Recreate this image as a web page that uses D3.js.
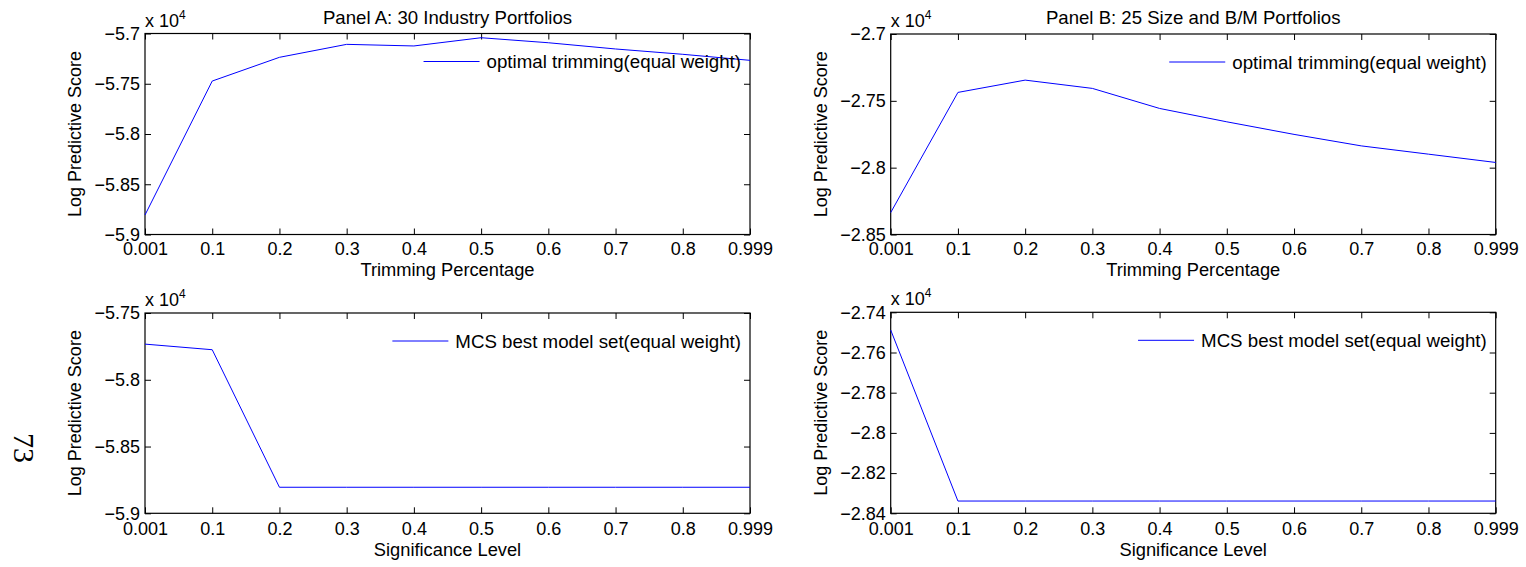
<!DOCTYPE html>
<html>
<head>
<meta charset="utf-8">
<script src="https://cdn.jsdelivr.net/npm/d3@7"></script>
<style>
  body { margin: 0; background: #fff; }
  text { font-family: "Liberation Sans", Arial, sans-serif; }
</style>
</head>
<body>
<script>
var width = 1526;
var height = 567;

// x categories (same for all four panels)
var xLabels = ["0.001", "0.1", "0.2", "0.3", "0.4", "0.5", "0.6", "0.7", "0.8", "0.999"];

// values in units of 10^4
var trimA = [-5.8806, -5.7473, -5.7237, -5.7108, -5.7124, -5.7042, -5.7092, -5.7154, -5.7207, -5.7267];
var trimB = [-2.8336, -2.7437, -2.7345, -2.7407, -2.7557, -2.7657, -2.7751, -2.7837, -2.7899, -2.7961];
var mcsA = [-5.7733, -5.7775, -5.8805, -5.8805, -5.8805, -5.8805, -5.8805, -5.8805, -5.8805, -5.8805];
var mcsB = [-2.7488, -2.8339, -2.8339, -2.8339, -2.8339, -2.8339, -2.8339, -2.8339, -2.8339, -2.8339];

// y ticks per panel
var yTicksA = [-5.9, -5.85, -5.8, -5.75, -5.7];
var yTicksB = [-2.85, -2.8, -2.75, -2.7];
var yTicksC = [-5.9, -5.85, -5.8, -5.75];
var yTicksD = [-2.84, -2.82, -2.8, -2.78, -2.76, -2.74];

var svg = d3.select("body")
            .append("svg")
            .attr("width", width)
            .attr("height", height);

var fmt = function (d) { return String(d).replace("-", "\u2212"); };

function drawPanel(p) {
    var w = p.right - p.left,
        h = p.bottom - p.top;

    var x = d3.scalePoint().domain(xLabels).range([0, w]),
        y = d3.scaleLinear().domain([p.yTicks[0], p.yTicks[p.yTicks.length - 1]]).range([h, 0]);

    var g = svg.append("g")
               .attr("transform", "translate(" + p.left + "," + p.top + ")");

    // bottom axis with labels, ticks pointing in
    g.append("g")
     .attr("transform", "translate(0," + h + ")")
     .call(d3.axisBottom(x).tickSize(-6).tickPadding(p.tickPad));
    g.append("g").call(d3.axisTop(x).tickSize(-6).tickFormat(""));

    g.append("g")
     .call(d3.axisLeft(y).tickValues(p.yTicks).tickSize(-6).tickPadding(5).tickFormat(fmt));
    g.append("g")
     .attr("transform", "translate(" + w + ",0)")
     .call(d3.axisRight(y).tickValues(p.yTicks).tickSize(-6).tickFormat(""));

    g.selectAll(".domain").remove();
    g.selectAll(".tick line").attr("stroke", "#000").attr("stroke-width", 1);
    g.selectAll(".tick text")
     .attr("font-family", "Liberation Sans, Arial, sans-serif")
     .attr("font-size", 18)
     .attr("fill", "#000");

    // box
    g.append("rect")
     .attr("width", w)
     .attr("height", h)
     .attr("fill", "none")
     .attr("stroke", "#000")
     .attr("stroke-width", 1.2);

    // data line
    var line = d3.line()
                 .x(function (d, i) { return x(xLabels[i]); })
                 .y(function (d) { return y(d); });
    g.append("path")
     .datum(p.values)
     .attr("d", line)
     .attr("fill", "none")
     .attr("stroke", "#0000ff")
     .attr("stroke-width", 1);

    // legend (no box)
    var legText = g.append("text")
                   .attr("x", w - 9)
                   .attr("y", 28)
                   .attr("dy", "0.35em")
                   .attr("text-anchor", "end")
                   .attr("font-size", 18.7)
                   .text(p.legend);
    var tw = legText.node().getComputedTextLength();
    g.append("line")
     .attr("x1", w - 9 - tw - 63)
     .attr("x2", w - 9 - tw - 7)
     .attr("y1", 28)
     .attr("y2", 28)
     .attr("stroke", "#0000ff")
     .attr("stroke-width", 1);

    // exponent label
    var ex = g.append("text")
              .attr("x", 0)
              .attr("y", -7)
              .attr("font-size", 18)
              .text("x 10");
    ex.append("tspan")
      .attr("font-size", 12)
      .attr("dy", -8)
      .text("4");

    // axis labels
    g.append("text")
     .attr("transform", "translate(-64," + (h / 2) + ") rotate(-90)")
     .attr("text-anchor", "middle")
     .attr("font-size", 18)
     .text("Log Predictive Score");

    g.append("text")
     .attr("x", w / 2)
     .attr("y", h + p.xLabelOffset)
     .attr("text-anchor", "middle")
     .attr("font-size", 18.3)
     .text(p.xTitle);

    if (p.title) {
        g.append("text")
         .attr("x", w / 2)
         .attr("y", -10)
         .attr("text-anchor", "middle")
         .attr("font-size", 18.6)
         .text(p.title);
    }
}

drawPanel({ left: 145, right: 750, top: 33.5, bottom: 234.5, yTicks: yTicksA, values: trimA,
            legend: "optimal trimming(equal weight)", xTitle: "Trimming Percentage",
            title: "Panel A: 30 Industry Portfolios", xLabelOffset: 41, tickPad: 7.5 });
drawPanel({ left: 890.7, right: 1495.7, top: 34, bottom: 234.5, yTicks: yTicksB, values: trimB,
            legend: "optimal trimming(equal weight)", xTitle: "Trimming Percentage",
            title: "Panel B: 25 Size and B/M Portfolios", xLabelOffset: 41, tickPad: 7.5 });
drawPanel({ left: 145, right: 750, top: 313, bottom: 513.3, yTicks: yTicksC, values: mcsA,
            legend: "MCS best model set(equal weight)", xTitle: "Significance Level",
            xLabelOffset: 43, tickPad: 8.5 });
drawPanel({ left: 890.7, right: 1495.7, top: 312.3, bottom: 513.3, yTicks: yTicksD, values: mcsB,
            legend: "MCS best model set(equal weight)", xTitle: "Significance Level",
            xLabelOffset: 43, tickPad: 8.5 });

// page number, rotated
svg.append("text")
   .attr("transform", "translate(24,448) rotate(90)")
   .attr("text-anchor", "middle")
   .attr("dy", "0.35em")
   .style("font-family", "Liberation Serif, Times New Roman, serif")
   .attr("font-size", 30)
   .text("73");
</script>
</body>
</html>
